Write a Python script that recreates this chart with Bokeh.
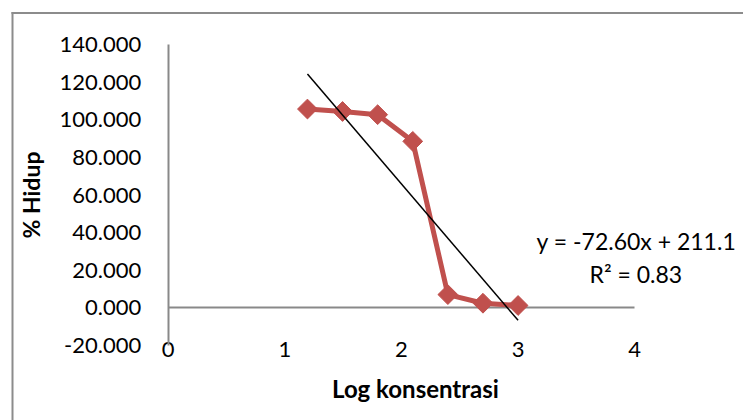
import math
from bokeh.plotting import figure
from bokeh.models import Label, FixedTicker, NumeralTickFormatter, Range1d, LinearAxis, BoxAnnotation
from bokeh.embed import file_html
from bokeh.resources import INLINE

# ---- data ----
log_konsentrasi = [1.194, 1.495, 1.796, 2.097, 2.398, 2.699, 3.000]
persen_hidup = [105.8, 104.5, 102.8, 88.6, 7.0, 2.4, 1.2]
trend_slope = -72.60
trend_intercept = 211.1
equation_text = "y = -72.60x + 211.1"
r2_text = "R\u00b2 = 0.83"
x_ticks = [0, 1, 2, 3, 4]
y_ticks = [-20, 0, 20, 40, 60, 80, 100, 120, 140]
x_title = "Log konsentrasi"
y_title = "% Hidup"

RED = "#C0504D"
AXIS = "#898989"
BORDER = "#8c8c8c"
FONT = "Lato"
FS = "22px"

W, H = 743, 420
# frame covers the whole canvas; axes are placed at fixed locations
p = figure(width=W, height=H, output_backend="svg", toolbar_location=None,
           x_range=Range1d(-1.4379, 4.9329), y_range=Range1d(-60.04, 163.59),
           min_border=0, min_border_left=0, min_border_right=0,
           min_border_top=0, min_border_bottom=0)
p.outline_line_color = None
p.xgrid.visible = False
p.ygrid.visible = False
p.background_fill_color = "white"
p.border_fill_color = "white"

# outer chart border (only its left and top edges fall inside the window)
p.add_layout(BoxAnnotation(left=11, right=13, top=H - 11.5, bottom=-100,
                           left_units="screen", right_units="screen",
                           top_units="screen", bottom_units="screen",
                           fill_color=BORDER, fill_alpha=1, line_color=None))
p.add_layout(BoxAnnotation(left=11, right=3000, top=H - 11.5, bottom=H - 13.5,
                           left_units="screen", right_units="screen",
                           top_units="screen", bottom_units="screen",
                           fill_color=BORDER, fill_alpha=1, line_color=None))

# y axis
ya = p.yaxis[0]
ya.fixed_location = 0
ya.bounds = (min(y_ticks), max(y_ticks))
ya.ticker = FixedTicker(ticks=y_ticks)
ya.formatter = NumeralTickFormatter(format="0.000")
ya.axis_line_color = AXIS
ya.axis_line_width = 2
ya.major_tick_out = 0
ya.major_tick_in = 0
ya.minor_tick_out = 0
ya.minor_tick_in = 0
ya.major_label_standoff = 27
ya.major_label_text_font = FONT
ya.major_label_text_font_size = FS
ya.major_label_text_color = "black"
ya.axis_label = y_title
ya.axis_label_text_font = FONT
ya.axis_label_text_font_size = "23px"
ya.axis_label_text_font_style = "bold"
ya.axis_label_text_color = "black"
ya.axis_label_standoff = 12

# x axis (labels + title) at the bottom of the value range
xa = p.xaxis[0]
xa.fixed_location = min(y_ticks)
xa.bounds = (0, 4.24)
xa.ticker = FixedTicker(ticks=x_ticks)
xa.axis_line_color = None
xa.major_tick_out = 0
xa.major_tick_in = 0
xa.minor_tick_out = 0
xa.minor_tick_in = 0
xa.major_label_standoff = -3
xa.major_label_text_font = FONT
xa.major_label_text_font_size = FS
xa.major_label_text_color = "black"
xa.axis_label = x_title
xa.axis_label_text_font = FONT
xa.axis_label_text_font_size = "24px"
xa.axis_label_text_font_style = "bold"
xa.axis_label_text_color = "black"
xa.axis_label_standoff = 13

# horizontal axis line at y = 0
zero_axis = LinearAxis(fixed_location=0, bounds=(min(x_ticks), max(x_ticks)),
                       ticker=FixedTicker(ticks=[]), axis_line_color=AXIS, axis_line_width=2,
                       major_tick_out=0, major_tick_in=0, minor_tick_out=0, minor_tick_in=0,
                       major_label_text_alpha=0, level="underlay")
p.add_layout(zero_axis, "below")

# series
p.line(log_konsentrasi, persen_hidup, line_color=RED, line_width=5)
p.scatter(log_konsentrasi, persen_hidup, marker="square", angle=math.pi / 4, size=14,
          fill_color=RED, line_color=RED)

# linear trendline
tx = [min(log_konsentrasi), max(log_konsentrasi)]
ty = [trend_slope * v + trend_intercept for v in tx]
p.line(tx, ty, line_color="black", line_width=1.5)

# equation labels
p.add_layout(Label(x=4.015, y=35.7, text=equation_text, text_align="center",
                   text_baseline="alphabetic", text_font=FONT, text_font_size="23px", text_color="black"))
p.add_layout(Label(x=4.01, y=17.7, text=r2_text, text_align="center",
                   text_baseline="alphabetic", text_font=FONT, text_font_size="23px", text_color="black"))

open("out.html", "w").write(file_html(p, INLINE))
